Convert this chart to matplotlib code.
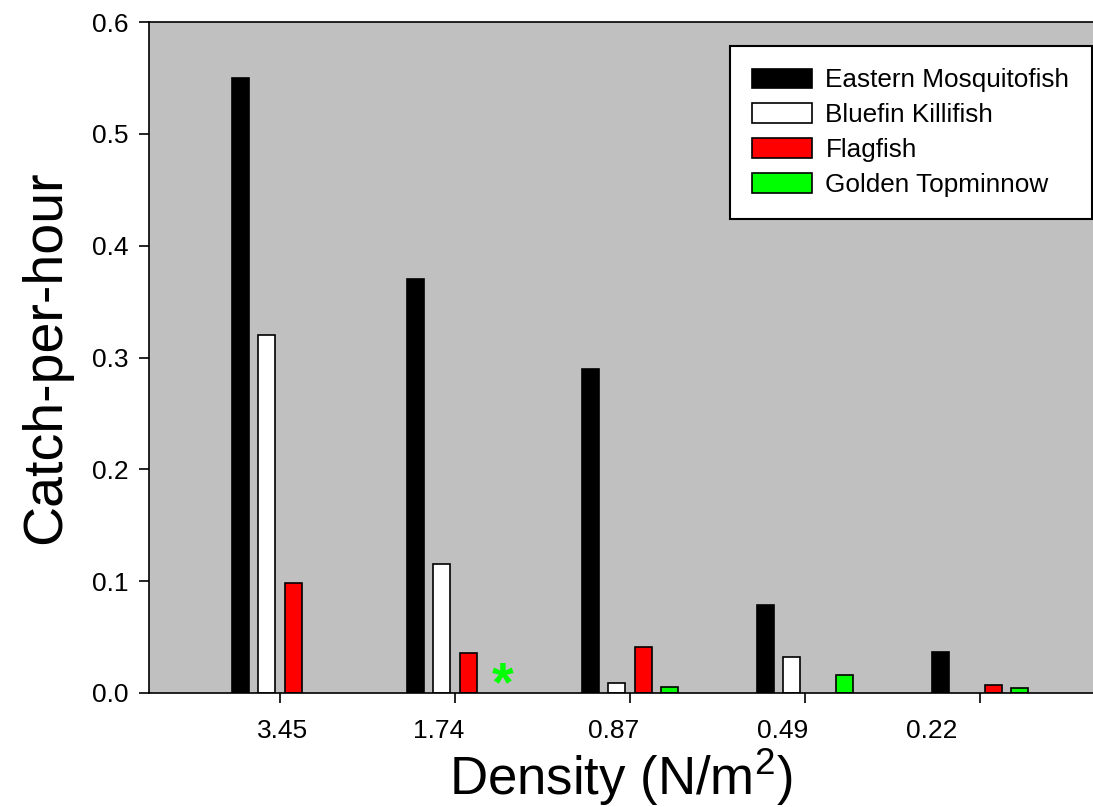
import numpy as np
import matplotlib.pyplot as plt
from matplotlib.transforms import ScaledTranslation, blended_transform_factory

plt.rcParams['font.family'] = ['Liberation Sans', 'DejaVu Sans']
plt.rcParams['mathtext.fontset'] = 'custom'
plt.rcParams['mathtext.rm'] = 'Liberation Sans'
plt.rcParams['mathtext.it'] = 'Liberation Sans'

# densities (N/m^2) shown as categories
densities = ["3.45", "1.74", "0.87", "0.49", "0.22"]
species = ["Eastern Mosquitofish", "Bluefin Killifish", "Flagfish", "Golden Topminnow"]

mosquitofish = [0.550, 0.370, 0.290, 0.079, 0.037]
killifish = [0.320, 0.115, 0.009, 0.032, np.nan]
flagfish = [0.098, 0.036, 0.041, np.nan, 0.007]
topminnow = [np.nan, np.nan, 0.005, 0.016, 0.004]

colors = ["black", "white", "#ff0000", "#00ff00"]

fig = plt.figure(figsize=(10.93, 8.07), dpi=100)
ax = fig.add_axes([0.1363, 0.1413, 0.8637, 0.8314])
ax.set_facecolor("#c0c0c0")

x = np.arange(len(densities))
step = 0.15
width = 0.097
series = [mosquitofish, killifish, flagfish, topminnow]
for i, (vals, name, col) in enumerate(zip(series, species, colors)):
    ax.bar(x + (i - 1.5) * step, vals, width=width, color=col,
           edgecolor="black", linewidth=1.2, label=name)

# asterisk marks the missing Golden Topminnow catch at 1.74
ax.text(x[1] + 1.5 * step + 0.05, 0.006, "*", color="#00ff00", fontsize=40,
        fontweight="bold", ha="center", va="center")

ax.set_xlim(-0.749, 4.646)
ax.set_ylim(0, 0.6)
ax.set_yticks(np.arange(0, 0.61, 0.1))
ax.set_yticklabels([f"{v:.1f}" for v in np.arange(0, 0.61, 0.1)])
ax.set_xticks(x)
ax.set_xticklabels([])

# category labels sit a bit off their ticks, as in the original SigmaPlot figure
shifts = [2, -12, -12, -16, -35]
trans = blended_transform_factory(ax.transData, ax.transAxes)
for xi, lab, dx in zip(x, densities, shifts):
    ax.text(xi, 0, lab, fontsize=19, ha="center", va="top",
            transform=trans + ScaledTranslation(dx / 72, -19 / 72, fig.dpi_scale_trans))

ax.tick_params(axis="both", direction="out", length=7, width=1.2,
               labelsize=19, color="black")
ax.tick_params(axis="y", pad=8)
ax.spines["right"].set_visible(False)
for s in ["left", "bottom", "top"]:
    ax.spines[s].set_linewidth(1.2)

ax.set_ylabel("Catch-per-hour", fontsize=40, labelpad=14)
ax.set_xlabel("Density (N/m$^2$)", fontsize=38, labelpad=28)

leg = ax.legend(loc="upper left", bbox_to_anchor=(0.668, 0.943),
                bbox_transform=fig.transFigure, borderaxespad=0,
                fontsize=18.8, fancybox=False, edgecolor="black",
                framealpha=1, handlelength=2.3, handleheight=0.75,
                handletextpad=0.5, labelspacing=0.42, borderpad=0.85)
leg.get_frame().set_linewidth(1.5)

fig.savefig("out.png", dpi=100)
